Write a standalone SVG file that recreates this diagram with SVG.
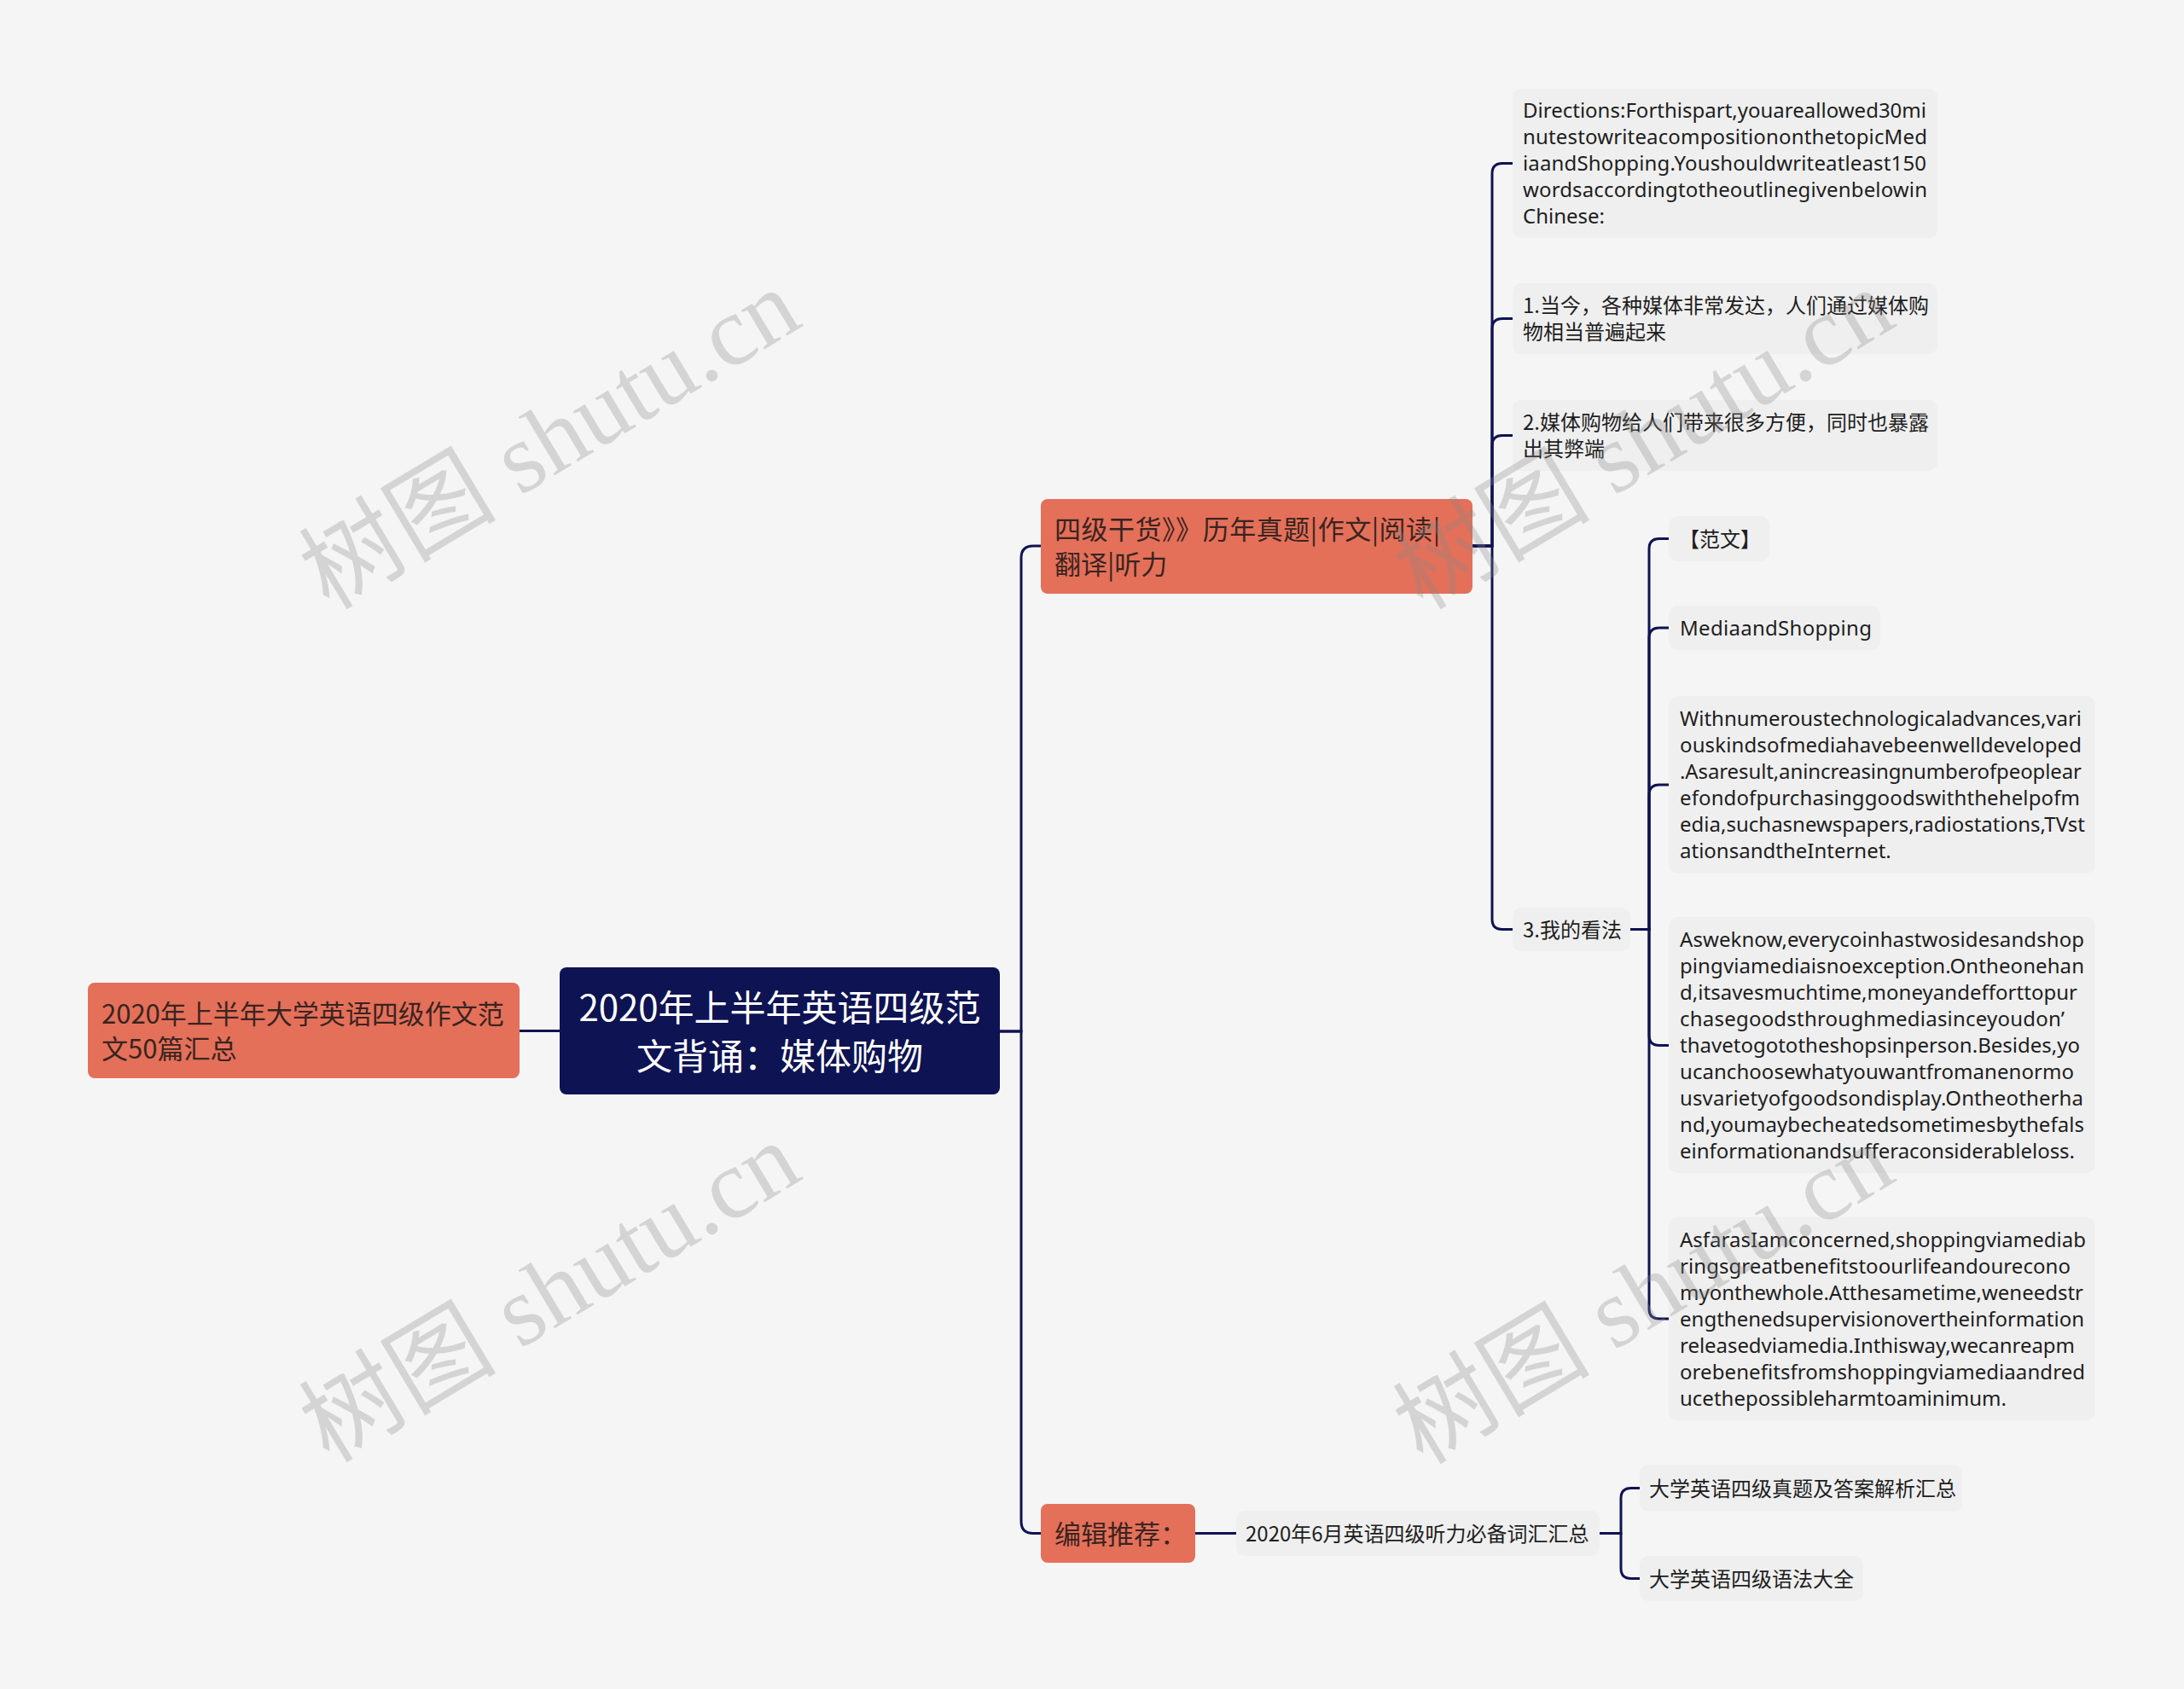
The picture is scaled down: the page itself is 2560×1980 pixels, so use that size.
<svg xmlns="http://www.w3.org/2000/svg" width="2560" height="1980" viewBox="0 0 2560 1980">
<style>
.bg{fill:#f5f5f5}
.cen{fill:#0e1353}
.org{fill:#e4705a}
.gry{fill:#efefef}
.ct{font-family:"Noto Sans CJK SC",sans-serif;font-size:42px;fill:#ffffff;text-anchor:middle}
.ot{font-family:"Noto Sans CJK SC",sans-serif;font-size:31px;fill:#3a2420}
.gt{font-family:"Noto Sans CJK SC",sans-serif;font-size:24px;fill:#1e1e1e}
.et{font-family:"Noto Sans","Noto Sans CJK SC",sans-serif;font-size:24px;fill:#1e1e1e}
.cn path{fill:none;stroke:#0e1353;stroke-width:3;stroke-linecap:round}
.wm{font-family:"Liberation Serif","Noto Sans CJK SC",serif;font-size:116px;fill:#888888;fill-opacity:0.3;text-anchor:middle}
</style>
<rect class="bg" x="0" y="0" width="2560" height="1980"/>
<g id="connectors" class="cn">
<path d="M609,1208.5 H656"/>
<path d="M1172,1209 H1197 V654 Q1197,640 1211,640 H1220"/>
<path d="M1172,1209 H1197 V1783.5 Q1197,1797.5 1211,1797.5 H1220"/>
<path d="M1726,640 H1749 V203.5 Q1749,191.5 1761,191.5 H1773"/>
<path d="M1726,640 H1749 V385.5 Q1749,373.5 1761,373.5 H1773"/>
<path d="M1726,640 H1749 V522.5 Q1749,510.5 1761,510.5 H1773"/>
<path d="M1726,640 H1749 V1077.5 Q1749,1089.5 1761,1089.5 H1773"/>
<path d="M1911,1089.5 H1933 V643.5 Q1933,631.5 1945,631.5 H1956"/>
<path d="M1911,1089.5 H1933 V748 Q1933,736 1945,736 H1956"/>
<path d="M1911,1089.5 H1933 V932 Q1933,920 1945,920 H1956"/>
<path d="M1911,1089.5 H1933 V1213.5 Q1933,1225.5 1945,1225.5 H1956"/>
<path d="M1911,1089.5 H1933 V1534 Q1933,1546 1945,1546 H1956"/>
<path d="M1401,1797.5 H1449"/>
<path d="M1875,1797.5 H1900 V1756.5 Q1900,1744.5 1912,1744.5 H1922"/>
<path d="M1875,1797.5 H1900 V1838.5 Q1900,1850.5 1912,1850.5 H1922"/>
</g>
<g id="node-central">
<rect class="cen" x="656" y="1134" width="516" height="149" rx="8"/>
<text class="ct" x="914" y="1196.5">2020年上半年英语四级范</text>
<text class="ct" x="914" y="1253.5">文背诵：媒体购物</text>
</g>
<g id="node-left">
<rect class="org" x="103" y="1152" width="506" height="112" rx="8"/>
<text class="ot" x="119" y="1200">2020年上半年大学英语四级作文范</text>
<text class="ot" x="119" y="1241">文50篇汇总</text>
</g>
<g id="node-siji">
<rect class="org" x="1220" y="585" width="506" height="111" rx="8"/>
<text class="ot" x="1236" y="631.5" textLength="452" lengthAdjust="spacing">四级干货》》历年真题|作文|阅读|</text>
<text class="ot" x="1236" y="672.5">翻译|听力</text>
</g>
<g id="node-bianji">
<rect class="org" x="1220" y="1763" width="181" height="69" rx="8"/>
<text class="ot" x="1236" y="1809.5">编辑推荐：</text>
</g>
<g id="node-directions">
<rect class="gry" x="1773" y="104" width="498" height="175" rx="10"/>
<text class="et" x="1785" y="138" textLength="473" lengthAdjust="spacing">Directions:Forthispart,youareallowed30mi</text>
<text class="et" x="1785" y="169" textLength="474" lengthAdjust="spacing">nutestowriteacompositiononthetopicMed</text>
<text class="et" x="1785" y="200" textLength="473" lengthAdjust="spacing">iaandShopping.Youshouldwriteatleast150</text>
<text class="et" x="1785" y="231" textLength="474" lengthAdjust="spacing">wordsaccordingtotheoutlinegivenbelowin</text>
<text class="et" x="1785" y="262">Chinese:</text>
</g>
<g id="node-point1">
<rect class="gry" x="1773" y="332" width="498" height="83" rx="10"/>
<text class="gt" x="1785" y="367">1.当今，各种媒体非常发达，人们通过媒体购</text>
<text class="gt" x="1785" y="398">物相当普遍起来</text>
</g>
<g id="node-point2">
<rect class="gry" x="1773" y="469" width="498" height="83" rx="10"/>
<text class="gt" x="1785" y="504">2.媒体购物给人们带来很多方便，同时也暴露</text>
<text class="gt" x="1785" y="535">出其弊端</text>
</g>
<g id="node-point3">
<rect class="gry" x="1773" y="1064" width="138" height="51" rx="10"/>
<text class="gt" x="1785" y="1098.5">3.我的看法</text>
</g>
<g id="node-fanwen">
<rect class="gry" x="1956" y="605" width="118" height="53" rx="10"/>
<text class="gt" x="1968" y="640.5">【范文】</text>
</g>
<g id="node-title">
<rect class="gry" x="1956" y="710" width="248" height="52" rx="10"/>
<text class="et" x="1969" y="744.5" textLength="225" lengthAdjust="spacing">MediaandShopping</text>
</g>
<g id="node-para1">
<rect class="gry" x="1956" y="816" width="500" height="208" rx="10"/>
<text class="et" x="1969" y="851" textLength="471" lengthAdjust="spacing">Withnumeroustechnologicaladvances,vari</text>
<text class="et" x="1969" y="882" textLength="471" lengthAdjust="spacing">ouskindsofmediahavebeenwelldeveloped</text>
<text class="et" x="1969" y="913" textLength="471" lengthAdjust="spacing">.Asaresult,anincreasingnumberofpeoplear</text>
<text class="et" x="1969" y="944" textLength="469" lengthAdjust="spacing">efondofpurchasinggoodswiththehelpofm</text>
<text class="et" x="1969" y="975" textLength="475" lengthAdjust="spacing">edia,suchasnewspapers,radiostations,TVst</text>
<text class="et" x="1969" y="1006">ationsandtheInternet.</text>
</g>
<g id="node-para2">
<rect class="gry" x="1956" y="1075" width="500" height="300" rx="10"/>
<text class="et" x="1969" y="1109.5" textLength="474" lengthAdjust="spacing">Asweknow,everycoinhastwosidesandshop</text>
<text class="et" x="1969" y="1140.5" textLength="474" lengthAdjust="spacing">pingviamediaisnoexception.Ontheonehan</text>
<text class="et" x="1969" y="1171.5" textLength="466" lengthAdjust="spacing">d,itsavesmuchtime,moneyandefforttopur</text>
<text class="et" x="1969" y="1202.5" textLength="451" lengthAdjust="spacing">chasegoodsthroughmediasinceyoudon’</text>
<text class="et" x="1969" y="1233.5" textLength="469" lengthAdjust="spacing">thavetogototheshopsinperson.Besides,yo</text>
<text class="et" x="1969" y="1264.5" textLength="462" lengthAdjust="spacing">ucanchoosewhatyouwantfromanenormo</text>
<text class="et" x="1969" y="1295.5" textLength="473" lengthAdjust="spacing">usvarietyofgoodsondisplay.Ontheotherha</text>
<text class="et" x="1969" y="1326.5" textLength="474" lengthAdjust="spacing">nd,youmaybecheatedsometimesbythefals</text>
<text class="et" x="1969" y="1357.5" textLength="463" lengthAdjust="spacing">einformationandsufferaconsiderableloss.</text>
</g>
<g id="node-para3">
<rect class="gry" x="1956" y="1427" width="500" height="238" rx="10"/>
<text class="et" x="1969" y="1461.5" textLength="476" lengthAdjust="spacing">AsfarasIamconcerned,shoppingviamediab</text>
<text class="et" x="1969" y="1492.5" textLength="458" lengthAdjust="spacing">ringsgreatbenefitstoourlifeandourecono</text>
<text class="et" x="1969" y="1523.5" textLength="473" lengthAdjust="spacing">myonthewhole.Atthesametime,weneedstr</text>
<text class="et" x="1969" y="1554.5" textLength="474" lengthAdjust="spacing">engthenedsupervisionovertheinformation</text>
<text class="et" x="1969" y="1585.5" textLength="463" lengthAdjust="spacing">releasedviamedia.Inthisway,wecanreapm</text>
<text class="et" x="1969" y="1616.5" textLength="475" lengthAdjust="spacing">orebenefitsfromshoppingviamediaandred</text>
<text class="et" x="1969" y="1647.5">ucethepossibleharmtoaminimum.</text>
</g>
<g id="node-vocab">
<rect class="gry" x="1449" y="1771" width="426" height="53" rx="10"/>
<text class="gt" x="1460" y="1806.5">2020年6月英语四级听力必备词汇汇总</text>
</g>
<g id="node-zhenti">
<rect class="gry" x="1922" y="1717" width="378" height="55" rx="10"/>
<text class="gt" x="1933" y="1753.5">大学英语四级真题及答案解析汇总</text>
</g>
<g id="node-yufa">
<rect class="gry" x="1922" y="1824" width="262" height="53" rx="10"/>
<text class="gt" x="1933" y="1859.5">大学英语四级语法大全</text>
</g>
<g id="watermarks">
<text class="wm" transform="translate(645,516) rotate(-31)" x="0" y="38">树图 shutu.cn</text>
<text class="wm" transform="translate(645,1516) rotate(-31)" x="0" y="38">树图 shutu.cn</text>
<text class="wm" transform="translate(1927,516) rotate(-31)" x="0" y="38">树图 shutu.cn</text>
<text class="wm" transform="translate(1927,1518) rotate(-31)" x="0" y="38">树图 shutu.cn</text>
</g>
</svg>
